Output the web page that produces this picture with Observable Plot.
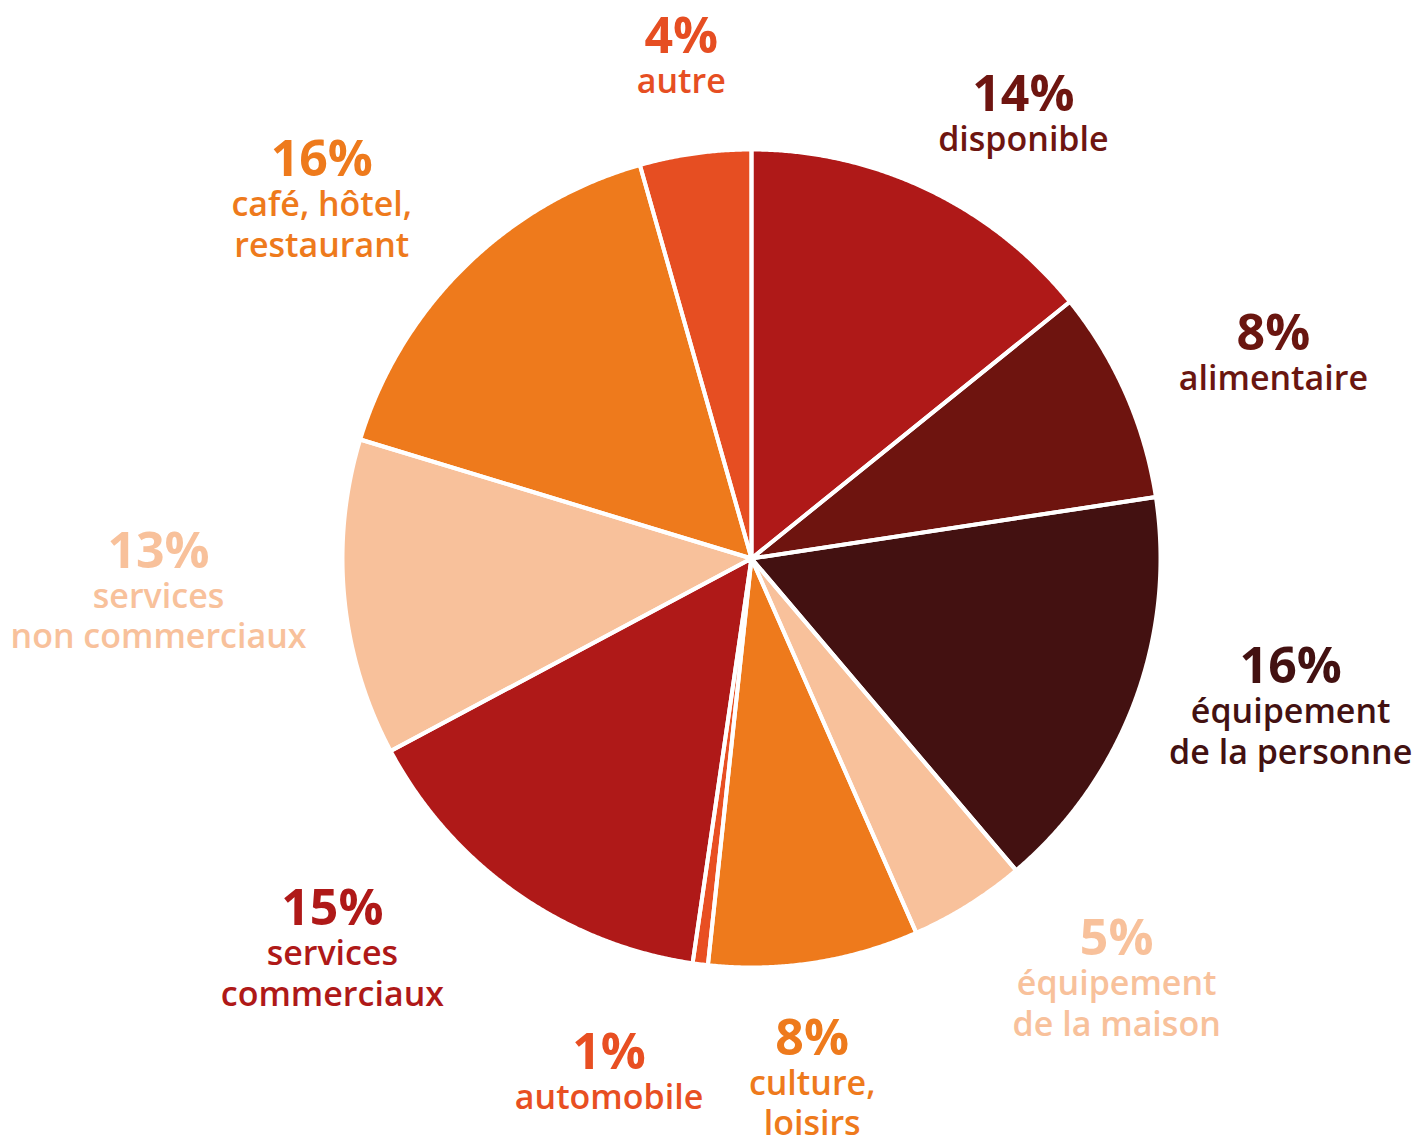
<!DOCTYPE html>
<html>
<head>
<meta charset="utf-8">
<script src="https://cdn.jsdelivr.net/npm/d3@7"></script>
<script src="https://cdn.jsdelivr.net/npm/@observablehq/plot@0.6"></script>
<style>
  html, body { margin: 0; padding: 0; background: #ffffff; }
  #chart svg { display: block; }
</style>
</head>
<body>
<div id="chart"></div>
<script>
// ---------- DATA ----------
const categories = [
  "disponible", "alimentaire", "équipement de la personne", "équipement de la maison",
  "culture, loisirs", "automobile", "services commerciaux", "services non commerciaux",
  "café, hôtel, restaurant", "autre"
];
const shares = [14.2, 8.4, 16.2, 4.6, 8.3, 0.6, 14.9, 12.5, 15.9, 4.4];
const percentLabels = ["14%", "8%", "16%", "5%", "8%", "1%", "15%", "13%", "16%", "4%"];
const labelLines = [
  ["disponible"], ["alimentaire"], ["équipement", "de la personne"], ["équipement", "de la maison"],
  ["culture,", "loisirs"], ["automobile"], ["services", "commerciaux"], ["services", "non commerciaux"],
  ["café, hôtel,", "restaurant"], ["autre"]
];

// ---------- STYLE / LAYOUT ----------
const sliceColors = ["#AF1918", "#6E140F", "#431111", "#F8C19B", "#EE7A1C", "#E84F22", "#AF1918", "#F8C19B", "#EE7A1C", "#E64E22"];
const labelColors = ["#6E1510", "#6A1610", "#431111", "#F8C19B", "#EE7A1C", "#E84F22", "#AF1918", "#F8C19B", "#EE7A1C", "#E64E22"];
// label placement: [angle offset from slice middle (deg), radius as multiple of pie radius]
const labelNudge = [[5.7, 1.281], [2.0, 1.374], [-7.5, 1.353], [-10.6, 1.318], [1.85, 1.222],
                    [8.4, 1.295], [13.7, 1.362], [4.7, 1.45], [-3.9, 1.406], [0, 1.247]];

const W = 1413, H = 1141, CX = 751, CY = 558, R = 409;
const FONT = "'Open Sans', Lato, sans-serif";

// ---------- GEOMETRY (data space, unit radius) ----------
const total = d3.sum(shares);
let cum = 0;
const slicePts = [];
const labels = [];
categories.forEach((cat, i) => {
  const a0 = cum / total * 2 * Math.PI;
  cum += shares[i];
  const a1 = cum / total * 2 * Math.PI;
  slicePts.push({cat, x: 0, y: 0, color: sliceColors[i]});
  const n = Math.max(2, Math.ceil((a1 - a0) / (Math.PI / 720)));
  for (let k = 0; k <= n; k++) {
    const a = a0 + (a1 - a0) * k / n;
    slicePts.push({cat, x: Math.sin(a), y: Math.cos(a), color: sliceColors[i]});
  }
  slicePts.push({cat, x: 0, y: 0, color: sliceColors[i]});
  const mid = (a0 + a1) / 2 + labelNudge[i][0] * Math.PI / 180;
  const r = labelNudge[i][1];
  labels.push({
    cat,
    x: r * Math.sin(mid),
    y: r * Math.cos(mid),
    pct: percentLabels[i],
    name: labelLines[i].join("\n"),
    color: labelColors[i]
  });
});

const chart = Plot.plot({
  width: W,
  height: H,
  margin: 0,
  x: {domain: [-CX / R, (W - CX) / R], axis: null},
  y: {domain: [-(H - CY) / R, CY / R], axis: null},
  color: {type: "identity"},
  style: {fontFamily: FONT, background: "#ffffff"},
  marks: [
    Plot.line(slicePts, {x: "x", y: "y", z: "cat", fill: "color", stroke: "none", curve: "linear"}),
    Plot.line(slicePts, {x: "x", y: "y", z: "cat", fill: "none", stroke: "#ffffff", strokeWidth: 4, strokeLinejoin: "round", curve: "linear"}),
    Plot.text(labels, {x: "x", y: "y", text: "pct", fill: "color", fontSize: 50, fontWeight: 700,
                       lineAnchor: "bottom", textAnchor: "middle", fontFamily: FONT}),
    Plot.text(labels, {x: "x", y: "y", text: "name", fill: "color", fontSize: 34, fontWeight: 600,
                       lineAnchor: "top", lineHeight: 1.2, dy: 11, textAnchor: "middle", fontFamily: FONT})
  ]
});
document.getElementById("chart").appendChild(chart);
</script>
</body>
</html>
